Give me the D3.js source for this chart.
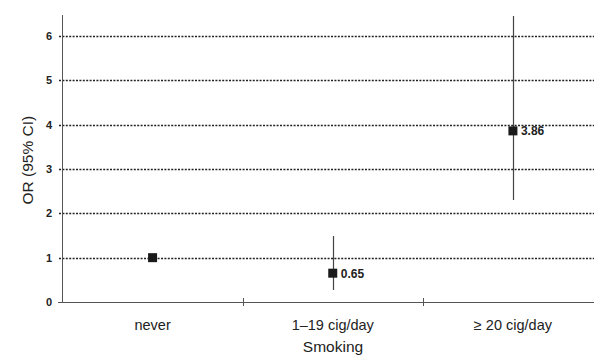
<!DOCTYPE html>
<html lang="en">
<head>
<meta charset="UTF-8">
<title>OR by smoking</title>
<script src="https://d3js.org/d3.v7.min.js"></script>
<style>
    body { margin: 0; background: #fff; }
    text { font-family: "Liberation Sans", Arial, sans-serif; fill: #222; }
    .ytick { font-size: 11px; font-weight: bold; }
    .vlabel { font-size: 12px; font-weight: bold; }
    .cat { font-size: 14.5px; }
    .title { font-size: 15.5px; }
</style>
</head>
<body>
<svg id="chart"></svg>
<script>
    const categories = ["never", "1\u201319 cig/day", "\u2265 20 cig/day"];
    const orValues = [1, 0.65, 3.86];
    const ciLow = [null, 0.27, 2.30];
    const ciHigh = [null, 1.49, 6.45];
    const pointLabels = [null, "0.65", "3.86"];
    const yTicks = [0, 1, 2, 3, 4, 5, 6];

    const width = 594, height = 356;
    const svg = d3.select("#chart").attr("width", width).attr("height", height);

    const x = d3.scaleBand().domain(categories).range([62.5, 603]).padding(0);
    const y = d3.scaleLinear().domain([0, 6]).range([302, 36]);

    // dotted grid lines
    svg.append("g").selectAll("line")
        .data(yTicks.filter(d => d > 0))
        .enter().append("line")
        .attr("x1", 59).attr("x2", width)
        .attr("y1", d => Math.round(y(d)) + 0.5).attr("y2", d => Math.round(y(d)) + 0.5)
        .attr("stroke", "#222").attr("stroke-width", 1.4)
        .attr("stroke-dasharray", "2,1.4");

    // y axis
    svg.append("line")
        .attr("x1", 62.5).attr("x2", 62.5).attr("y1", 15).attr("y2", 302)
        .attr("stroke", "#555").attr("stroke-width", 1);
    svg.append("line")
        .attr("x1", 58).attr("x2", 62).attr("y1", Math.round(y(0)) + 0.5).attr("y2", Math.round(y(0)) + 0.5)
        .attr("stroke", "#555");
    svg.append("g").selectAll("text")
        .data(yTicks).enter().append("text")
        .attr("class", "ytick")
        .attr("x", 52).attr("y", d => y(d))
        .attr("dy", "0.36em").attr("text-anchor", "end")
        .text(d => d);

    // x axis
    svg.append("line")
        .attr("x1", 62).attr("x2", width).attr("y1", 302.5).attr("y2", 302.5)
        .attr("stroke", "#555");
    svg.append("g").selectAll("line")
        .data(categories.slice(1)).enter().append("line")
        .attr("x1", d => Math.round(x(d)) + 0.5).attr("x2", d => Math.round(x(d)) + 0.5)
        .attr("y1", 298).attr("y2", 306)
        .attr("stroke", "#555");
    svg.append("g").selectAll("text")
        .data(categories).enter().append("text")
        .attr("class", "cat")
        .attr("x", d => x(d) + x.bandwidth() / 2)
        .attr("y", 330).attr("text-anchor", "middle")
        .text(d => d);

    // CI lines
    categories.forEach((c, i) => {
        if (ciLow[i] === null) return;
        const cx = Math.round(x(c) + x.bandwidth() / 2) + 0.5;
        svg.append("line")
            .attr("x1", cx).attr("x2", cx)
            .attr("y1", y(ciHigh[i])).attr("y2", y(ciLow[i]))
            .attr("stroke", "#444").attr("stroke-width", 1.2);
    });

    // point markers
    svg.append("g").selectAll("rect")
        .data(categories).enter().append("rect")
        .attr("x", d => x(d) + x.bandwidth() / 2 - 4.5)
        .attr("y", (d, i) => y(orValues[i]) - 4.5)
        .attr("width", 9).attr("height", 9)
        .attr("fill", "#1a1a1a");

    svg.append("g").selectAll("text")
        .data(categories).enter().append("text")
        .attr("class", "vlabel")
        .attr("x", d => x(d) + x.bandwidth() / 2 + 8)
        .attr("y", (d, i) => y(orValues[i]))
        .attr("dy", "0.36em")
        .text((d, i) => pointLabels[i] || "");

    // axis titles
    svg.append("text")
        .attr("class", "title")
        .attr("transform", "translate(33," + y(3.2) + ") rotate(-90)")
        .attr("text-anchor", "middle")
        .text("OR (95% CI)");
    svg.append("text")
        .attr("class", "title")
        .attr("x", 333).attr("y", 352)
        .attr("text-anchor", "middle")
        .text("Smoking");
</script>
</body>
</html>
